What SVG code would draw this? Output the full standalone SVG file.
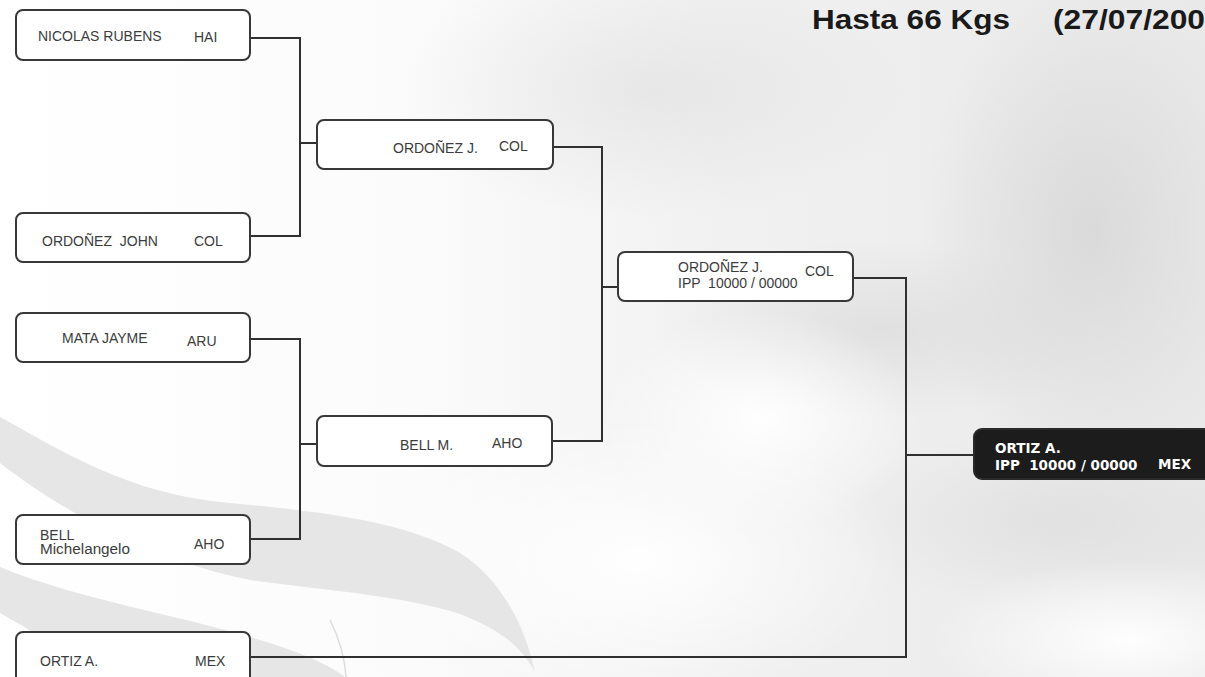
<svg xmlns="http://www.w3.org/2000/svg" width="1205" height="677" viewBox="0 0 1205 677">
<defs>
<linearGradient id="bg" x1="0" y1="0" x2="1" y2="0">
<stop offset="0" stop-color="#ffffff"/>
<stop offset="0.35" stop-color="#fbfbfb"/>
<stop offset="0.6" stop-color="#f1f1f1"/>
<stop offset="1" stop-color="#e9e9e9"/>
</linearGradient>
<radialGradient id="blobDark" cx="0.5" cy="0.5" r="0.5">
<stop offset="0" stop-color="#d8d8d8" stop-opacity="0.9"/>
<stop offset="1" stop-color="#d8d8d8" stop-opacity="0"/>
</radialGradient>
<radialGradient id="blobLight" cx="0.5" cy="0.5" r="0.5">
<stop offset="0" stop-color="#ffffff" stop-opacity="0.95"/>
<stop offset="1" stop-color="#ffffff" stop-opacity="0"/>
</radialGradient>
<style>
.box{fill:#ffffff;stroke:#383838;stroke-width:2}
.dark{fill:#1c1c1c;stroke:#2a2a2a;stroke-width:2}
.conn{fill:none;stroke:#303030;stroke-width:2}
.t{font-family:"Liberation Sans",Arial,sans-serif;font-size:14px;fill:#3c3c3c}
.tb{font-family:"DejaVu Sans",Verdana,sans-serif;font-size:13.5px;font-weight:bold;fill:#ffffff}
.title{font-family:"Liberation Sans",Arial,sans-serif;font-size:28px;font-weight:bold;fill:#1a1a1a}
.sw{fill:#e6e6e6}
</style>
</defs>

<g id="background">
<rect x="0" y="0" width="1205" height="677" fill="url(#bg)"/>
<ellipse cx="650" cy="90" rx="260" ry="130" fill="url(#blobDark)" opacity="0.5"/>
<ellipse cx="1090" cy="230" rx="170" ry="250" fill="url(#blobDark)"/>
<ellipse cx="880" cy="330" rx="220" ry="90" fill="url(#blobDark)" opacity="0.7"/>
<ellipse cx="1060" cy="520" rx="230" ry="90" fill="url(#blobDark)" opacity="0.6"/>
<ellipse cx="760" cy="420" rx="160" ry="110" fill="url(#blobLight)"/>
<ellipse cx="1130" cy="640" rx="200" ry="80" fill="url(#blobLight)"/>
<ellipse cx="640" cy="560" rx="260" ry="140" fill="url(#blobLight)"/>
<path class="sw" d="M0 417 C60 450 130 495 230 503 C300 510 400 518 460 553 C500 578 525 625 535 672 C520 645 500 630 460 614 C400 595 320 590 250 580 C150 560 60 510 0 463 Z"/>
<path class="sw" d="M0 567 C80 600 180 615 260 640 C300 652 330 665 345 677 L110 677 C70 655 30 630 0 613 Z"/>
<path d="M330 620 C340 640 345 660 346 677" fill="none" stroke="#dcdcdc" stroke-width="1.5"/>
</g>

<g id="title">
<text class="title" x="812" y="29" textLength="198" lengthAdjust="spacingAndGlyphs">Hasta 66 Kgs</text>
<text class="title" x="1053" y="29" textLength="152" lengthAdjust="spacingAndGlyphs">(27/07/200</text>
</g>

<g id="connectors">
<path class="conn" d="M250 38 H300 V236 H250"/>
<path class="conn" d="M300 143 H317"/>
<path class="conn" d="M250 339 H300 V539 H250"/>
<path class="conn" d="M300 444 H317"/>
<path class="conn" d="M553 147 H602 V441 H552"/>
<path class="conn" d="M602 287 H618"/>
<path class="conn" d="M853 278 H906 V657 H250"/>
<path class="conn" d="M906 455 H974"/>
</g>

<g id="n-nicolas">
<rect class="box" x="16" y="10" width="234" height="50" rx="7"/>
<text class="t" x="38" y="41">NICOLAS RUBENS</text>
<text class="t" x="194" y="42">HAI</text>
</g>

<g id="n-ordonez-john">
<rect class="box" x="16" y="213" width="234" height="49" rx="7"/>
<text class="t" x="42" y="246" xml:space="preserve">ORDOÑEZ  JOHN</text>
<text class="t" x="194" y="246">COL</text>
</g>

<g id="n-mata">
<rect class="box" x="16" y="313" width="234" height="49" rx="7"/>
<text class="t" x="62" y="343">MATA JAYME</text>
<text class="t" x="187" y="346">ARU</text>
</g>

<g id="n-bell-michelangelo">
<rect class="box" x="16" y="515" width="234" height="49" rx="7"/>
<text class="t" x="40" y="540">BELL</text>
<text class="t" x="40" y="554" textLength="90" lengthAdjust="spacingAndGlyphs">Michelangelo</text>
<text class="t" x="194" y="549">AHO</text>
</g>

<g id="n-ortiz">
<rect class="box" x="16" y="632" width="234" height="60" rx="7"/>
<text class="t" x="40" y="666">ORTIZ A.</text>
<text class="t" x="195" y="666">MEX</text>
</g>

<g id="m-ordonez">
<rect class="box" x="317" y="120" width="236" height="49" rx="7"/>
<text class="t" x="393" y="153">ORDOÑEZ J.</text>
<text class="t" x="499" y="151">COL</text>
</g>

<g id="m-bell">
<rect class="box" x="317" y="416" width="235" height="50" rx="7"/>
<text class="t" x="400" y="450">BELL M.</text>
<text class="t" x="492" y="448">AHO</text>
</g>

<g id="s-ordonez">
<rect class="box" x="618" y="252" width="235" height="49" rx="7"/>
<text class="t" x="678" y="272">ORDOÑEZ J.</text>
<text class="t" x="678" y="288" xml:space="preserve">IPP  10000 / 00000</text>
<text class="t" x="805" y="276">COL</text>
</g>

<g id="f-ortiz">
<rect class="dark" x="974" y="429" width="250" height="50" rx="8"/>
<text class="tb" x="995" y="453">ORTIZ A.</text>
<text class="tb" x="995" y="470" xml:space="preserve">IPP  10000 / 00000</text>
<text class="tb" x="1158" y="469">MEX</text>
</g>
</svg>
